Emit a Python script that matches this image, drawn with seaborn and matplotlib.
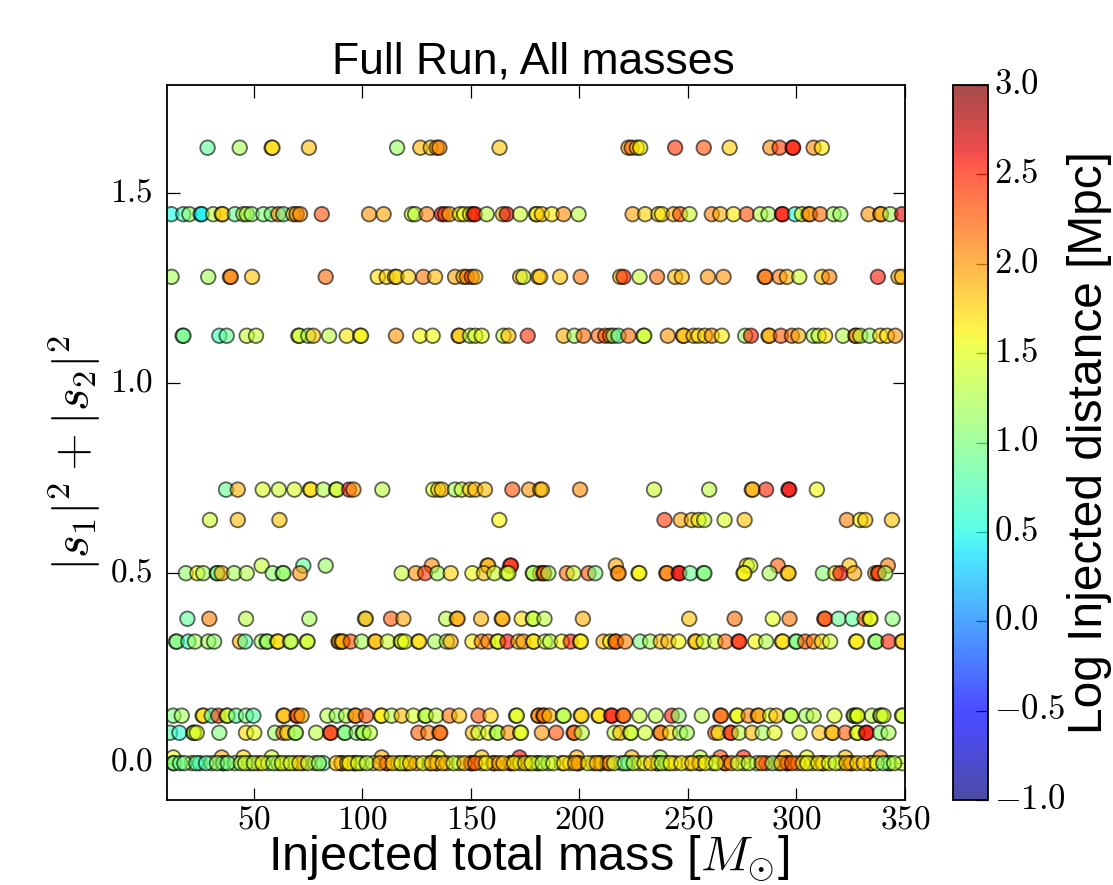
import pandas as pd
import numpy as np
import matplotlib
matplotlib.use('Agg')
import matplotlib.pyplot as plt
import matplotlib.transforms as mtrans
import seaborn as sns

row_162 = [(28.7,0.85),(43.5,1.2),(58.2,1.7),(58.6,1.7),(75.4,1.85),(116,1.15),(126.7,1.85),(131.5,1.8),(134.3,1.95),(135.5,2.1),(163.2,1.8),
           (222.6,2.0),(224.1,2.2),(226.5,1.8),(228,1.6),(244.1,2.45),(257.3,2.3),(269.2,1.75),(287.9,2.05),(292.2,2.4),(298.2,2.55),(298.5,2.55),(307.9,2.05),(311.7,1.65)]
row_144 = [(12,0.5),(17.5,0.7),(20.3,1.1),(25.5,0.45),(26,0.45),(31.3,1.3),(35.2,1.75),(35.6,1.75),(41.3,0.9),(45.2,1.3),(46.7,1.3),(49,1.1),(54.4,1.0),(58.2,1.0),(61.3,2.1),(63.6,0.9),(68.2,1.9),(69.7,1.9),(71.3,2.1),(81.3,2.3),
           (103.1,2.0),(109.8,1.95),(122.8,1.4),(124.3,1.3),(129.7,2.1),(136.6,2.7),(138.1,2.4),(140.1,1.9),(145,1.6),(146.9,1.5),(149.6,1.7),(151.2,2.6),(151.9,2.5),(157.3,1.3),(164.7,1.85),(166.5,2.7),(172.7,1.4),(180,1.7),
           (180.4,1.6),(182.7,1.8),(187.3,1.65),(192.7,2.05),(199.6,1.3),(224.5,1.95),(230.3,1.75),(236.4,1.7),(238,1.7),(243.4,1.9),(246.4,2.3),(250.7,1.4),(261,2.1),(264.9,1.9),(271,1.65),(277.1,2.3),(283.3,1.3),(287.1,1.2),(293.3,2.55),(293.6,2.55),(299.4,0.6),(302.5,1.6),(305.6,2.0),(306.2,2.0),(310.9,2.2),(317.1,1.2),(320.2,1.15),(333.2,2.0),(338.6,1.95),(339,1.95),(343.2,1.2),(348.6,2.65)]
row_128 = [(12.1,1.2),(29,1.2),(39,2.1),(39.4,2.1),(49.2,1.8),(83.1,2.2),(107.1,1.7),(111.2,1.75),(115,1.8),(115.8,1.7),(121.2,1.75),(128.1,2.15),(133.5,1.85),(142.7,1.95),(146.6,1.8),(148.1,2.1),(150.4,2.4),(152,1.85),(172.7,1.9),(174.2,1.4),(181.1,1.8),
           (181.9,1.8),(191.1,1.8),(200.6,2.15),(218.8,1.8),(220.3,2.5),(227.7,1.35),(235.8,2.2),(244.1,1.85),(247.2,1.85),(259.2,2.0),(266.4,2.0),(285.3,2.15),(285.7,2.15),(292.2,2.15),(295.6,1.9),(301.3,1.4),(311.7,1.8),(315.1,2.1),(337.5,2.55),(347,1.85),(348.6,1.9)]
row_112 = [(17.2,0.95),(17.6,0.95),(34.1,0.7),(37.5,0.9),(46.7,1.35),(51,1.35),(70.5,1.4),(71,1.4),(75.1,1.2),(77.4,1.8),(84.7,1.3),(92.8,1.65),(99,1.6),(99.4,1.6),(115.5,2.0),(126.6,1.6),(132.4,1.55),(144.3,1.8),(144.7,1.8),(149.6,1.25),(152,1.5),(155,1.5),(165,1.4),(167.3,1.85),(176.2,2.45),
           (192.7,1.9),(197.7,1.2),(201.9,2.2),(208.8,2.2),(211.9,2.3),(214.2,2.1),(215.7,1.0),(218,0.9),(222.6,2.2),(229.5,1.4),(229.9,1.4),(240.7,2.0),(247.7,1.85),(248.1,1.85),(252.6,1.8),(254.9,1.7),(257.9,1.75),(261,2.0),(265.6,1.65),(276.4,1.2),(279,2.5),(287.1,1.9),(287.5,1.9),(292.8,2.25),(297.9,2.2),(300.9,1.9),(307.9,1.2),(310.2,1.4),(313.2,1.7),(321.4,1.25),(327.1,2.0),(327.5,2.0),(329.4,1.3),(333.7,1.15),(338.6,1.7),(341.7,1.7),(345.5,2.0)]
row_072 = [(37.2,0.9),(42.6,1.9),(54.1,1.45),(61.5,1.4),(68.7,1.45),(75.9,1.7),(76.3,1.7),(82,1.25),(87.9,1.4),(88.3,1.4),(93.9,2.6),(95.9,1.95),(109.2,1.3),(132.7,1.5),(135,1.7),(136.6,1.85),(142.7,1.2),(145.8,1.4),(149.6,1.8),(152,1.85),(156.5,1.85),(169.1,2.3),(176.8,2.0),(181.9,1.9),
           (182.7,1.85),(200.3,2.05),(234.4,1.4),(259.8,1.3),(279.4,1.9),(279.8,1.9),(286,2.5),(296.3,2.6),(296.7,2.6),(309.4,1.55)]
row_064 = [(29.8,1.4),(42.6,1.85),(61.8,1.8),(163.1,1.6),(239.2,2.4),(246.7,1.95),(251.8,1.85),(254.9,1.6),(257.5,1.4),(266.9,1.45),(276.1,1.8),(323.2,2.1),(329.4,1.6),(331.7,1.8),(344,1.8)]
row_052 = [(53.6,1.35),(72.8,0.85),(83.1,1.15),(132,2.05),(157.6,1.9),(158,1.9),(168.1,2.5),(168.5,2.5),(216.8,1.95),(277.1,1.7),(278.7,1.4),(291.4,2.25),(324.4,1.8),(342.1,2.15)]
row_050 = [(18.7,1.1),(24,1.6),(26.7,1.2),(32.9,1.0),(33.3,1.0),(35.2,1.9),(40.9,1.2),(46.7,1.25),(58.7,1.1),(63.3,1.1),(63.7,1.1),(71.3,2.0),(118.1,1.35),(124.6,2.0),(128.9,2.4),(134.6,1.2),(140.7,1.75),(150.7,1.55),(156,1.8),(160.8,1.4),(166.5,1.5),(167.3,1.4),(178.5,1.2),(181.9,2.2),
           (178.8,1.25),(183.4,2.2),(183.8,2.2),(185.7,1.2),(194.2,2.2),(197.3,1.4),(204.2,2.3),(207.3,1.0),(217.7,2.05),(218.1,2.05),(227.2,1.6),(227.6,1.6),(240,2.1),(240.4,2.1),(245.7,2.6),(246.1,2.6),(251,0.9),(257.2,1.0),(257.6,1.0),(275.6,1.6),(276,1.6),(287.6,1.2),(296,1.8),(296.4,1.8),(312.2,1.05),(317.9,1.7),(320.2,2.6),(326.6,1.95),(336.3,1.8),(337.5,2.4),(337.9,2.4),(340.9,1.2)]
row_038 = [(19.4,0.85),(29.5,2.1),(46.4,1.3),(75.6,1.2),(101.2,1.3),(101.6,1.9),(113.2,2.25),(118.9,1.95),(138.6,1.3),(143.5,1.9),(143.9,1.9),(154.7,1.9),(164.2,1.9),(164.6,1.9),(173.4,1.7),(178.5,1.4),
           (178.8,1.35),(183.9,1.3),(201.6,1.9),(250.6,1.8),(271.5,2.2),(289.1,1.5),(296.8,2.15),(312.8,2.3),(313.2,2.3),(319.4,0.9),(325.8,0.85),(331.4,2.2),(333.7,1.5),(334.1,1.5),(344.3,1.05)]
row_032 = [(14.1,1.0),(14.5,1.0),(19.8,0.7),(22.9,1.2),(29,1.2),(31.7,1.1),(43.6,1.9),(46,0.8),(53.6,1.2),(55.9,1.15),(56.3,1.15),(60.8,1.7),(61.2,1.7),(66.7,1.3),(67.1,1.3),(74.4,1.4),(74.8,1.4),(89,2.0),(89.4,2.0),(90.5,1.85),(90.9,1.85),(94.6,2.3),(99.7,1.2),(105.8,1.85),(106.2,1.85),(111.7,1.4),(117.7,1.5),(118.1,1.5),(119.6,1.5),(125.8,1.7),(126.2,1.7),(133.5,1.2),(138.9,1.3),(140.7,1.9),(150.7,1.65),(155,2.1),(158,2.1),(162.2,1.5),(162.6,1.5),(166.8,2.6),(171.9,1.85),(174.2,2.0),(178.8,1.65),
           (178.9,1.7),(184.2,1.4),(186.5,1.3),(191.9,1.6),(196,2.5),(200.3,1.65),(200.7,1.65),(211.1,1.9),(214.2,1.6),(216.5,2.2),(216.9,2.2),(221.1,2.1),(228,1.0),(232.6,1.2),(237.5,1.85),(241,1.85),(245.7,1.6),(253.3,1.8),(253.7,1.8),(257.2,1.4),(262.6,1.4),(267.2,2.2),(273.3,2.45),(273.7,2.45),(281,1.6),(286,1.25),(293.3,1.7),(293.7,1.7),(299.7,1.0),(300.1,1.0),(304,2.3),(307.9,2.1),(311.7,1.7),(315.5,1.4),(327.4,1.65),(327.8,1.65),(336.3,1.1),(336.7,1.1),(342.4,2.5),(348.6,1.75),(349,1.75)]
row_012 = [(12.9,1.0),(16.8,1.2),(26.4,1.7),(26.8,1.7),(30.6,0.8),(33.7,2.4),(37.5,1.4),(37.9,1.4),(41.8,0.85),(46.4,1.0),(49.8,0.8),(63.6,1.85),(64,1.85),(69.7,2.3),(70.1,2.3),(72,1.9),(83.9,1.25),(88.2,1.15),(92.5,1.25),(96.6,2.0),(97,2.0),(101.7,2.3),(108.5,1.65),(108.9,1.65),(113.5,1.3),(118.1,1.85),(123.5,1.45),(128.9,1.3),(129.3,1.3),(134,1.35),(140.1,2.15),(144.6,1.8),(153.5,2.3),(159.1,1.75),(170.8,1.5),(171.2,1.5),(181.1,2.1),
           (181.2,2.05),(183.4,2.1),(183.8,2.1),(186.2,1.85),(192.4,1.3),(192.8,1.3),(200.6,1.75),(201,1.75),(208.8,1.7),(209.2,1.7),(214.6,2.5),(215,2.5),(220,2.2),(220.4,2.2),(227.7,1.35),(235.2,1.3),(242.6,2.5),(245.7,1.1),(256.4,1.3),(264.9,2.2),(265.3,2.2),(272.5,1.55),(272.9,1.55),(277.9,2.1),(282.2,1.95),(282.6,1.95),(287.9,1.5),(290.7,1.85),(297.1,1.3),(297.5,1.3),(304.5,1.2),(307.9,1.3),(317.5,1.45),(326.3,1.3),(326.7,1.3),(327.8,1.5),(328.2,1.5),(334.8,1.3),(338.6,1.4),(339,1.4),(340.1,1.4),(348.6,1.4),(349,1.4)]
row_008 = [(11.4,0.8),(15.7,0.6),(22.1,1.3),(22.5,1.3),(23.7,1.5),(34.1,1.0),(46.4,1.7),(50.2,1.5),(59.8,1.15),(63.6,2.3),(65.4,1.6),(69,1.2),(69.4,1.2),(78.7,1.3),(85.1,2.4),(85.5,2.4),(91.7,1.0),(92.1,1.0),(97.4,1.1),(100.2,1.2),(100.6,1.2),(103.5,1.3),(125.8,2.25),(130.4,2.1),(135.5,2.2),(135.9,2.2),(150.9,1.85),(153.5,1.4),(158,1.5),(161.9,1.25),(162.3,1.25),(167.3,2.0),(172.7,1.5),(173.1,1.5),
           (182.7,2.0),(189.3,2.3),(197.3,2.2),(197.7,2.2),(201.1,1.3),(216.2,1.35),(218.8,1.85),(223.4,1.4),(223.8,1.4),(230.3,1.4),(237.2,2.1),(237.6,2.1),(241.8,1.7),(246.4,1.2),(249.5,1.2),(262.6,2.3),(264.1,1.6),(269.5,2.4),(269.9,2.4),(273.6,1.3),(279.5,1.85),(284.4,1.2),(289.9,1.5),(301.4,1.45),(310.6,1.8),(316.3,1.85),(316.7,1.85),(322.5,2.25),(327.8,1.5),(328.2,1.5),(332,2.6),(332.4,2.6),(338.6,1.05),(342.4,1.2)]
row_002 = [(12.9,1.5),(35.2,1.9),(45.2,1.7),(58.2,1.4),(108.9,1.9),(135,1.5),(155,1.8),(172.4,2.6),(198.8,1.9),(224.1,1.9),(237.2,1.2),(255.6,1.3),(264.9,2.3),(275.6,2.5),(294.8,1.8),(304.8,1.5),(322.5,1.8),(338.6,2.1)]
row_000 = [(12.9,1.0),(13.3,1.0),(21.4,1.6),(25.2,0.8),(30.6,1.3),(35.7,0.9),(36.1,0.9),(41.3,1.1),(48.2,1.2),(52.1,1.8),(56.7,1.2),(61.3,1.4),(65.1,1.35),(69,1.5),(72.8,2.1),(78.2,1.4),(82,0.9),(90.2,1.85),(90.6,1.85),(96.2,1.6),(96.6,1.6),(99.7,1.5),(105,1.4),(111.2,2.2),(111.6,2.2),(116.6,1.6),(120,1.6),(120.4,1.6),(125,1.9),(130.9,1.4),(134,1.7),(134.4,1.7),(138.9,1.9),(144.6,1.3),(150,2.3),(150.4,2.3),(155,1.7),(160.4,2.0),(160.8,2.0),(168.1,2.2),(168.5,2.2),(172.7,1.4),(176.5,1.9),(180.3,1.3),
           (181.1,1.4),(185.7,1.2),(191.9,1.6),(195.7,1.7),(199.3,2.0),(199.7,2.0),(206.5,1.8),(209.6,1.7),(210,1.7),(212.9,2.1),(219.5,1.25),(222.6,0.8),(227.7,1.7),(235.7,1.2),(236.1,1.2),(240.3,1.3),(244.1,1.8),(250.3,1.7),(255.2,1.7),(255.6,1.7),(261.3,1.4),(266.9,2.2),(267.3,2.2),(275.6,1.6),(281.8,1.2),(286.1,2.4),(291.7,1.3),(295.6,2.45),(296,2.45),(300.6,2.0),(307.4,1.6),(312,1.65),(312.4,1.65),(320.5,1.5),(325,1.85),(325.4,1.85),(334,1.7),(334.4,1.7),(342.4,1.2),(342.8,1.2),(348.6,1.4)]
# the bottom row is almost solid, these fill the overlaps
row_000_dense = [(16,0.9),(18,1.0),(23.5,0.7),(28,0.8),(33,1.1),(38,1.0),(44,1.2),(46,1.4),(50,1.3),(54,1.5),(59,1.2),(63,1.5),(67,1.4),(71,1.7),(75,1.3),(80,1.1),
                 (88,1.8),(93,1.7),(94,1.6),(98,1.4),(102,1.3),(108,2.0),(114,1.7),(118,1.5),(122,1.8),(128,1.5),(132,1.9),(137,1.8),(142,1.4),(147,1.9),(152,2.2),(157,1.6),(163,1.9),(165,1.8),(170,1.6),(175,1.7),(178,1.5),
                 (183,1.3),(188,1.5),(193,1.7),(198,1.9),(204,1.6),(208,1.9),(214,2.0),(216,1.4),(221,1.0),(225,1.3),(230,1.5),(233,1.8),(238,1.3),(242,1.6),(247,1.6),(252,1.8),(258,1.6),(263,1.5),(270,2.0),(273,1.4),(278,1.3),(284,2.2),(289,1.2),(293,2.0),(298,2.2),(303,1.7),(305,1.5),(310,1.7),(315,1.5),(318,1.4),(323,1.9),(328,1.7),(331,1.8),(337,1.5),(340,1.0),(345,1.3)]

spin_rows = [(1.62, row_162), (1.445, row_144), (1.28, row_128), (1.125, row_112),
             (0.72, row_072), (0.64, row_064), (0.52, row_052), (0.5, row_050),
             (0.38, row_038), (0.32, row_032), (0.125, row_012), (0.08, row_008),
             (0.015, row_002), (0.0, row_000), (0.0, row_000_dense)]

xticks = [50, 100, 150, 200, 250, 300, 350]
yticks = [0.0, 0.5, 1.0, 1.5]
cbar_ticks = [-1.0, -0.5, 0.0, 0.5, 1.0, 1.5, 2.0, 2.5, 3.0]

sns.set_style('white')
plt.rcParams['font.family'] = ['Liberation Sans', 'DejaVu Sans']
plt.rcParams['mathtext.fontset'] = 'cm'

records = []
for spin, row in spin_rows:
    for mass, dist in row:
        records.append({'mass': mass, 'spin': spin, 'logd': dist})
df = pd.DataFrame(records)

fig = plt.figure(figsize=(11.13, 8.85), dpi=100)
ax = fig.add_axes([167 / 1113, 85 / 885, 738 / 1113, 715 / 885])
cax = fig.add_axes([953 / 1113, 85 / 885, 35 / 1113, 715 / 885])

jet = matplotlib.colormaps['jet']
sns.scatterplot(data=df, x='mass', y='spin', hue='logd', hue_norm=(-1, 3), palette=jet,
                s=110, alpha=0.6, edgecolor='k', linewidth=1.3, legend=False, ax=ax)

ax.set_xlim(10, 350)
ax.set_ylim(-0.097, 1.785)
ax.set_xticks(xticks)
ax.set_yticks(yticks)
ax.set_xticklabels(['$%d$' % t for t in xticks])
ax.set_yticklabels(['$%.1f$' % t for t in yticks], va='center_baseline')
ax.tick_params(direction='in', length=9, width=0.9, top=True, right=True, bottom=True, left=True,
               labelsize=24, color='k', labelcolor='k')
ax.tick_params(axis='x', pad=3)
ax.tick_params(axis='y', pad=10)
for spine in ax.spines.values():
    spine.set_color('k')
    spine.set_linewidth(1.3)

ax.set_title('Full Run, All masses', fontsize=32, pad=8, color='k', x=0.497)
ax.set_xlabel(r'Injected total mass [$M_{\odot}$]', fontsize=35, labelpad=-1, color='k')
ax.xaxis.label.set_x(0.49)
ax.set_ylabel(r'$|s_1|^2 + |s_2|^2$', fontsize=35, labelpad=5, color='k')
ax.yaxis.label.set_y(0.486)

sm = plt.cm.ScalarMappable(norm=plt.Normalize(-1, 3), cmap=jet)
cbar = fig.colorbar(sm, cax=cax, alpha=0.7)
cbar.set_ticks(cbar_ticks)
cbar.set_ticklabels(['$%.1f$' % t for t in cbar_ticks], va='center_baseline')
cax.tick_params(direction='in', length=9, width=0.9, labelsize=25, pad=4, right=True,
                color='k', labelcolor='k')
cbar.outline.set_edgecolor('k')
cbar.outline.set_linewidth(1.3)
cbar.set_label('Log Injected distance [Mpc]', fontsize=34.5, labelpad=1, color='k')

# labels sit a few pixels higher in the original
nudge = mtrans.ScaledTranslation(0, 3 / 72, fig.dpi_scale_trans)
for lab in ax.get_yticklabels() + cax.get_yticklabels():
    lab.set_transform(lab.get_transform() + nudge)

fig.savefig('out.png', dpi=100)
